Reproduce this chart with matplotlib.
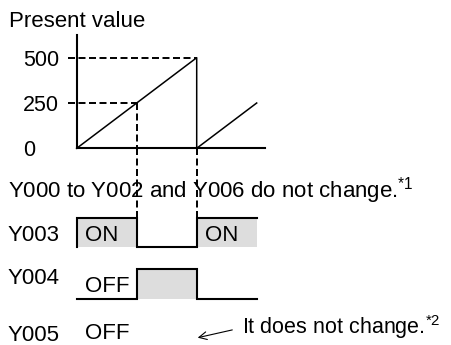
import matplotlib
matplotlib.use('Agg')
import matplotlib.pyplot as plt

plt.rcParams['font.family'] = ['Liberation Sans', 'DejaVu Sans']
plt.rcParams['font.size'] = 16
plt.rcParams['mathtext.fontset'] = 'custom'
plt.rcParams['mathtext.rm'] = 'Liberation Sans'

# present value curve (time in half-periods)
t_pv = [0, 2, 2, 3]
pv = [0, 500, 0, 250]
pv_ticks = [0, 250, 500]
t_at = {250: 1, 500: 2}

# output states per interval
t_edges = [0, 1, 2, 3]
y003 = [1, 0, 1]
y004 = [0, 1, 0]
y003_text = ['ON', None, 'ON']
y004_text = ['OFF', None, None]

W, H = 451, 345
px_per_t = 60.0
x0 = 76.7


def tx(px):
    # pixel x -> time units
    return (px - x0) / px_per_t


fig = plt.figure(figsize=(W / 100, H / 100), dpi=100)

# overlay axes, x in time units, y in pixel rows
ov = fig.add_axes([0, 0, 1, 1])
ov.set_xlim(tx(0), tx(W))
ov.set_ylim(H, 0)
ov.axis('off')

# present value axes
y_zero, y_top = 148.3, 35.0
pv_per_px = 500 / (148.3 - 57.7)
ax = fig.add_axes([x0 / W, (H - y_zero) / H, 188.3 / W, (y_zero - y_top) / H])
ax.set_xlim(0, 188.3 / px_per_t)
ax.set_ylim(0, (y_zero - y_top) * pv_per_px)
for s in ['top', 'right']:
    ax.spines[s].set_visible(False)
for s in ['left', 'bottom']:
    ax.spines[s].set_linewidth(1.5)
ax.set_xticks([])
ax.set_yticks(pv_ticks)
ax.set_yticklabels([str(v) for v in pv_ticks], ha='left')
ax.tick_params(axis='y', length=0, pad=(x0 - 23) / 1.389, labelsize=15.5)
ax.patch.set_alpha(0)

ax.plot(t_pv, pv, color='black', lw=1.1, clip_on=False)
dash = (0, (3.6, 1.8))
for v, t in t_at.items():
    ax.plot([tx(68), t], [v, v], color='black', lw=1.4, ls=dash, clip_on=False)
ax.plot([1, 1], [250, 0], color='black', lw=1.4, ls=dash)

ov.text(tx(9), 26.7, 'Present value', ha='left', va='baseline')

# dashed verticals down to Y003
hi3, lo3 = 217.7, 247.3
hi4, lo4 = 269.3, 299.3
for t in [1, 2]:
    ov.plot([t, t], [y_zero, hi3], color='black', lw=1.4, ls=dash)

ov.text(tx(8), 197, r'Y000 to Y002 and Y006 do not change.$^{\mathregular{*1}}$',
        ha='left', va='baseline')


def draw_signal(states, hi, lo, name, base, texts, tbase):
    xs, ys = [], []
    for i, s in enumerate(states):
        y = hi if s else lo
        xs += [t_edges[i], t_edges[i + 1]]
        ys += [y, y]
        if s:
            ov.fill_between([t_edges[i], t_edges[i + 1]], hi, lo, color='#dddddd', lw=0)
    if states[0]:
        xs = [t_edges[0]] + xs
        ys = [lo] + ys
    ov.plot(xs, ys, color='black', lw=1.5, solid_joinstyle='miter')
    ov.text(tx(8), base, name, ha='left', va='baseline')
    for i, txt in enumerate(texts):
        if txt:
            ov.text(t_edges[i] + 8 / px_per_t, tbase, txt, ha='left', va='baseline')


draw_signal(y003, hi3, lo3, 'Y003', 241, y003_text, 241)
draw_signal(y004, hi4, lo4, 'Y004', 284, y004_text, 292)

ov.text(tx(8), 341, 'Y005', ha='left', va='baseline')
ov.text(8 / px_per_t, 339, 'OFF', ha='left', va='baseline')
ov.annotate('', xy=(tx(195), 338.3), xytext=(tx(235), 329.3),
            arrowprops=dict(arrowstyle='->', color='black', lw=0.8, mutation_scale=14))
ov.text(tx(242), 334, r'It does not change.$^{\mathregular{*2}}$', ha='left', va='baseline',
        fontsize=15.5)

fig.savefig('out.png', dpi=100)
